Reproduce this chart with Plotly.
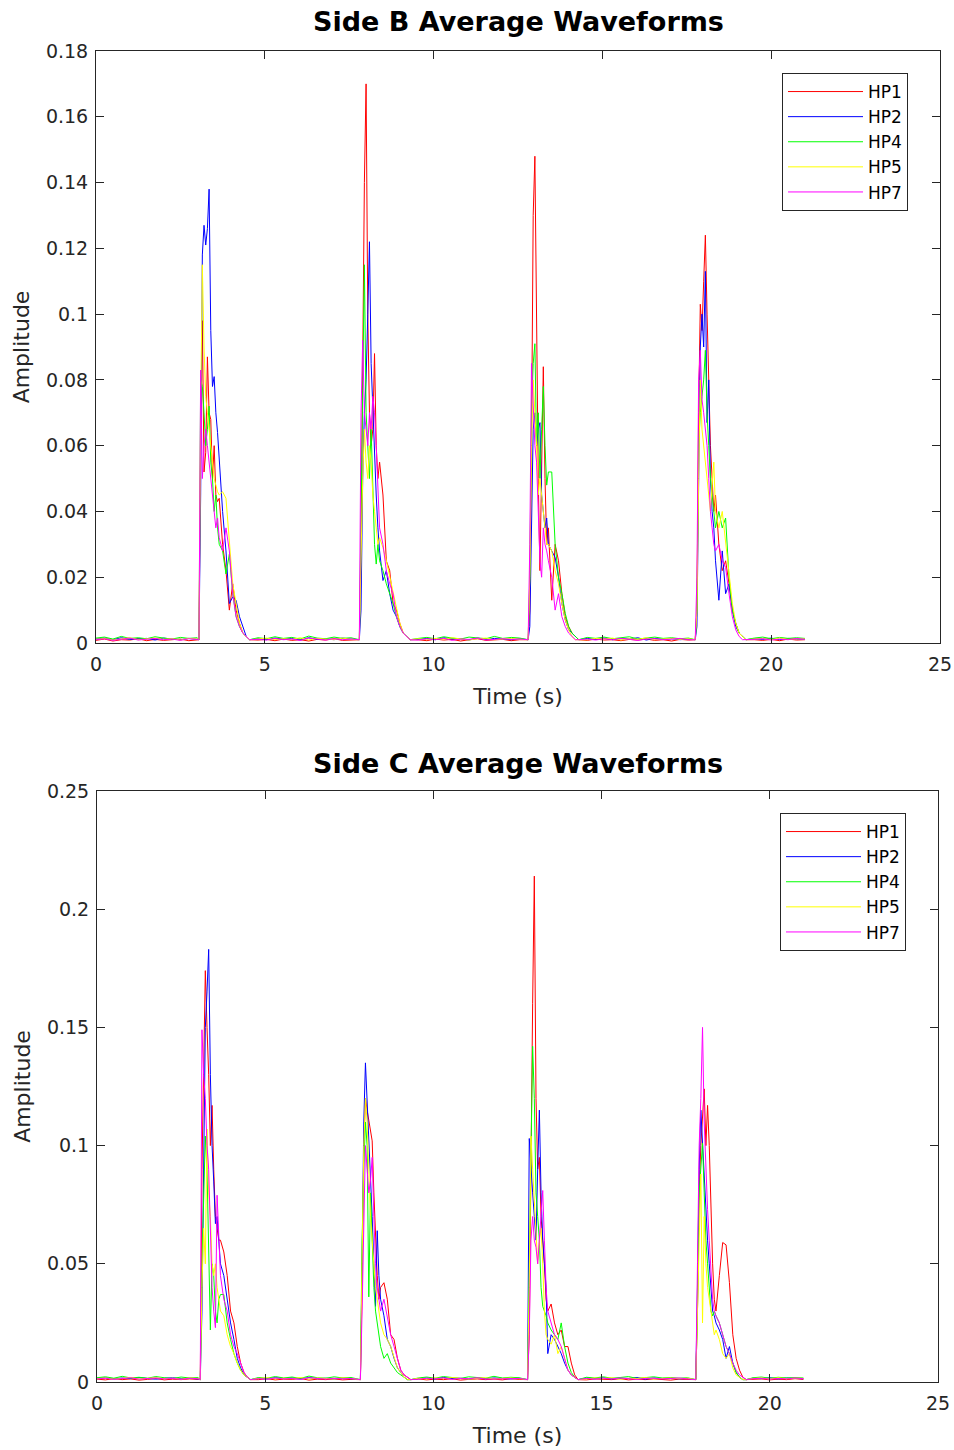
import plotly.graph_objects as go

# ---------------- data (amplitudes in milli-units) -------------
SERIES = ["HP1", "HP2", "HP4", "HP5", "HP7"]
COLORS = ["#FF0000", "#0000FF", "#00FF00", "#FFFF00", "#FF00FF"]

# baseline sample times (s), five quiet segments
BASE_T0 = [0, 0.25, 0.5, 0.75, 1.0, 1.25, 1.5, 1.75, 2.0, 2.25, 2.5, 2.75, 3.0]
BASE_T1 = [4.8, 5.05, 5.3, 5.55, 5.8, 6.05, 6.3, 6.55, 6.8, 7.05, 7.3, 7.55]
BASE_T2 = [9.55, 9.8, 10.05, 10.3, 10.55, 10.8, 11.05, 11.3, 11.55, 11.8, 12.05, 12.3, 12.55]
BASE_T3 = [14.55, 14.8, 15.05, 15.3, 15.55, 15.8, 16.05, 16.3, 16.55, 16.8, 17.05, 17.3, 17.55]
BASE_T4 = [19.5, 19.75, 20.0, 20.25, 20.5, 20.75, 21.0]
BASE_SEGS = [BASE_T0, BASE_T1, BASE_T2, BASE_T3, BASE_T4]

# burst sample offsets (s) from each burst's start time
BURST_OFFSETS = [0, 0.05, 0.1, 0.15, 0.2, 0.25, 0.3, 0.35, 0.4, 0.45, 0.5, 0.55, 0.6,
                 0.7, 0.8, 0.9, 1.0, 1.1, 1.2, 1.3, 1.4, 1.5]
BURST_START_B = [3.05, 7.8, 12.8, 17.75]
BURST_START_C = [3.07, 7.83, 12.8, 17.8]

# ---- Side B ----
B_HP1_BASE = [0.8, 1.2, 0.6, 1.0, 0.9, 1.3, 0.7, 1.1, 0.8, 1.0, 1.2, 0.7, 0.9,
              0.9, 1.1, 0.7, 1.2, 0.8, 1.0, 0.6, 1.1, 0.9, 1.3, 0.8, 1.0,
              1.0, 0.7, 1.2, 0.9, 1.1, 0.6, 1.0, 1.3, 0.8, 0.9, 1.1, 0.7, 1.0,
              0.8, 1.2, 0.9, 1.0, 0.7, 1.1, 0.9, 1.2, 0.8, 1.0, 0.6, 1.1, 0.9,
              1.0, 0.8, 1.1, 0.7, 1.2, 0.9, 1.0]
B_HP2_BASE = [1.2, 1.5, 1.0, 1.6, 1.1, 1.3, 1.4, 0.9, 1.5, 1.2, 1.0, 1.4, 1.1,
              1.3, 1.0, 1.5, 1.2, 1.4, 0.9, 1.6, 1.1, 1.3, 1.0, 1.5, 1.2,
              1.1, 1.4, 1.0, 1.6, 1.2, 1.3, 0.9, 1.5, 1.1, 1.4, 1.2, 1.0, 1.3,
              1.4, 1.1, 1.5, 1.0, 1.3, 1.2, 1.6, 0.9, 1.4, 1.1, 1.3, 1.0, 1.2,
              1.3, 1.1, 1.5, 1.0, 1.4, 1.2, 1.1]
B_HP4_BASE = [1.5, 1.8, 1.2, 2.0, 1.4, 1.6, 1.3, 1.9, 1.5, 1.2, 1.7, 1.4, 1.6,
              1.6, 1.3, 1.9, 1.4, 1.7, 1.2, 2.1, 1.5, 1.3, 1.8, 1.4, 1.6,
              1.4, 1.7, 1.3, 1.9, 1.5, 1.2, 1.8, 1.6, 1.3, 2.0, 1.4, 1.7, 1.5,
              1.7, 1.4, 1.8, 1.3, 1.6, 1.9, 1.2, 1.5, 1.8, 1.4, 1.6, 1.3, 1.5,
              1.5, 1.8, 1.3, 1.7, 1.4, 1.6, 1.4]
B_HP5_BASE = [1.1, 1.4, 0.9, 1.3, 1.6, 1.0, 1.2, 1.5, 1.1, 1.3, 0.9, 1.4, 1.2,
              1.2, 1.5, 1.0, 1.3, 1.1, 1.6, 0.9, 1.4, 1.2, 1.0, 1.5, 1.1,
              1.3, 1.0, 1.4, 1.1, 1.6, 1.2, 0.9, 1.3, 1.5, 1.0, 1.2, 1.4, 1.1,
              1.0, 1.4, 1.2, 1.5, 0.9, 1.3, 1.1, 1.6, 1.0, 1.2, 1.4, 1.1, 1.3,
              1.2, 1.4, 1.0, 1.5, 1.1, 1.3, 1.2]
B_HP7_BASE = [1.0, 1.3, 0.8, 1.2, 1.5, 0.9, 1.1, 1.4, 1.0, 1.2, 0.8, 1.3, 1.1,
              1.1, 0.9, 1.4, 1.0, 1.2, 0.8, 1.5, 1.1, 0.9, 1.3, 1.0, 1.2,
              0.9, 1.3, 1.0, 1.4, 0.8, 1.2, 1.1, 1.5, 0.9, 1.0, 1.3, 1.1, 1.2,
              1.2, 0.9, 1.3, 1.0, 1.4, 1.1, 0.8, 1.2, 1.3, 1.0, 1.1, 1.4, 1.0,
              1.1, 1.3, 0.9, 1.2, 1.0, 1.4, 1.1]

B_HP1_BURSTS = [[1, 60, 98, 52, 58, 87, 70, 68, 50, 60, 45, 43, 44, 30, 22, 10, 18, 10, 6, 3, 2, 1],
                [1, 30, 90, 140, 170, 100, 70, 60, 65, 88, 60, 50, 55, 45, 25, 22, 12, 10, 6, 3, 2, 1],
                [1, 10, 60, 130, 148, 90, 50, 22, 60, 84, 50, 30, 35, 13, 30, 25, 15, 8, 5, 3, 2, 1],
                [1, 10, 70, 103, 95, 110, 124, 100, 80, 60, 50, 40, 45, 30, 22, 25, 18, 10, 6, 3, 2, 1]]
B_HP2_BURSTS = [[1, 45, 118, 127, 121, 126, 138, 95, 78, 81, 70, 64, 55, 40, 28, 12, 14, 13, 8, 5, 2, 1],
                [1, 10, 50, 70, 80, 100, 122, 85, 70, 55, 45, 35, 28, 19, 22, 15, 10, 8, 5, 3, 2, 1],
                [1, 5, 40, 65, 70, 60, 65, 67, 45, 40, 35, 38, 30, 28, 26, 20, 12, 7, 4, 3, 2, 1],
                [1, 5, 50, 90, 100, 90, 113, 67, 80, 50, 40, 35, 25, 13, 28, 15, 18, 10, 5, 3, 2, 1]]
B_HP4_BURSTS = [[1, 80, 78, 70, 60, 65, 72, 55, 50, 40, 45, 35, 30, 28, 21, 27, 15, 8, 5, 3, 2, 1],
                [1, 40, 80, 115, 70, 60, 50, 65, 45, 30, 24, 30, 25, 22, 18, 15, 12, 8, 5, 3, 2, 1],
                [1, 20, 70, 85, 91, 60, 70, 50, 65, 78, 60, 48, 52, 52, 30, 20, 15, 9, 5, 3, 2, 1],
                [1, 10, 60, 70, 75, 80, 89, 70, 60, 50, 45, 40, 35, 40, 35, 38, 20, 10, 6, 3, 2, 1]]
B_HP5_BURSTS = [[1, 70, 115, 90, 75, 70, 65, 60, 55, 50, 48, 46, 45, 46, 44, 30, 18, 12, 6, 3, 2, 1],
                [1, 30, 50, 65, 55, 50, 60, 55, 45, 40, 35, 30, 32, 29, 25, 20, 15, 10, 6, 3, 2, 1],
                [1, 20, 60, 80, 70, 60, 45, 50, 45, 40, 35, 30, 30, 28, 22, 18, 12, 7, 4, 2, 1, 1],
                [1, 10, 50, 80, 65, 60, 55, 50, 45, 40, 48, 55, 40, 35, 40, 30, 20, 12, 6, 3, 2, 1]]
B_HP7_BURSTS = [[1, 83, 50, 60, 65, 60, 55, 50, 45, 40, 35, 38, 32, 28, 35, 28, 15, 8, 5, 3, 2, 1],
                [1, 70, 92, 70, 65, 60, 70, 65, 75, 70, 60, 45, 35, 30, 22, 18, 15, 8, 5, 3, 2, 1],
                [1, 30, 85, 70, 60, 55, 40, 25, 20, 35, 30, 28, 25, 20, 10, 15, 8, 5, 3, 2, 1, 1],
                [1, 20, 80, 89, 74, 70, 65, 60, 50, 40, 35, 30, 28, 30, 25, 23, 15, 8, 4, 2, 1, 1]]

# ---- Side C ----
C_HP1_BASE = [1.2, 0.9, 1.4, 1.0, 1.3, 0.8, 1.1, 1.5, 0.9, 1.2, 1.0, 1.3, 1.1,
              1.0, 1.4, 0.9, 1.2, 1.1, 1.5, 0.8, 1.2, 1.0, 1.3, 0.9, 1.1,
              1.3, 0.9, 1.2, 1.0, 1.4, 0.8, 1.1, 1.3, 1.0, 1.2, 0.9, 1.4, 1.1,
              0.9, 1.3, 1.1, 1.0, 1.4, 0.9, 1.2, 1.0, 1.3, 1.1, 0.8, 1.2, 1.0,
              1.1, 1.3, 0.9, 1.2, 1.0, 1.4, 1.1]
C_HP2_BASE = [1.5, 1.8, 1.3, 1.7, 1.4, 1.9, 1.5, 1.2, 1.6, 1.8, 1.4, 1.6, 1.3,
              1.6, 1.3, 1.8, 1.5, 1.7, 1.2, 1.9, 1.4, 1.6, 1.3, 1.7, 1.5,
              1.4, 1.7, 1.3, 1.9, 1.5, 1.6, 1.2, 1.8, 1.4, 1.7, 1.5, 1.3, 1.6,
              1.7, 1.4, 1.8, 1.3, 1.6, 1.5, 1.9, 1.2, 1.7, 1.4, 1.6, 1.3, 1.5,
              1.6, 1.4, 1.8, 1.3, 1.7, 1.5, 1.4]
C_HP4_BASE = [1.8, 2.2, 1.6, 2.4, 1.7, 2.0, 1.6, 2.3, 1.8, 1.5, 2.1, 1.7, 1.9,
              1.9, 1.6, 2.3, 1.7, 2.1, 1.5, 2.5, 1.8, 1.6, 2.2, 1.7, 1.9,
              1.7, 2.1, 1.6, 2.3, 1.8, 1.5, 2.2, 1.9, 1.6, 2.4, 1.7, 2.0, 1.8,
              2.0, 1.7, 2.2, 1.6, 1.9, 2.3, 1.5, 1.8, 2.2, 1.7, 1.9, 1.6, 1.8,
              1.8, 2.1, 1.6, 2.0, 1.7, 1.9, 1.7]
C_HP5_BASE = [1.4, 1.7, 1.2, 1.6, 1.9, 1.3, 1.5, 1.8, 1.4, 1.6, 1.2, 1.7, 1.5,
              1.5, 1.8, 1.3, 1.6, 1.4, 1.9, 1.2, 1.7, 1.5, 1.3, 1.8, 1.4,
              1.6, 1.3, 1.7, 1.4, 1.9, 1.5, 1.2, 1.6, 1.8, 1.3, 1.5, 1.7, 1.4,
              1.3, 1.7, 1.5, 1.8, 1.2, 1.6, 1.4, 1.9, 1.3, 1.5, 1.7, 1.4, 1.6,
              1.5, 1.7, 1.3, 1.8, 1.4, 1.6, 1.5]
C_HP7_BASE = [1.3, 1.6, 1.1, 1.5, 1.8, 1.2, 1.4, 1.7, 1.3, 1.5, 1.1, 1.6, 1.4,
              1.4, 1.2, 1.7, 1.3, 1.5, 1.1, 1.8, 1.4, 1.2, 1.6, 1.3, 1.5,
              1.2, 1.6, 1.3, 1.7, 1.1, 1.5, 1.4, 1.8, 1.2, 1.3, 1.6, 1.4, 1.5,
              1.5, 1.2, 1.6, 1.3, 1.7, 1.4, 1.1, 1.5, 1.6, 1.3, 1.4, 1.7, 1.3,
              1.4, 1.6, 1.2, 1.5, 1.3, 1.7, 1.4]

C_HP1_BURSTS = [[1, 90, 140, 174, 150, 130, 100, 117, 90, 70, 65, 60, 60, 55, 45, 30, 25, 15, 8, 4, 2, 1],
                [1, 40, 100, 120, 115, 110, 105, 102, 80, 60, 45, 35, 40, 42, 35, 20, 18, 10, 5, 3, 2, 1],
                [1, 20, 100, 160, 214, 120, 90, 95, 70, 60, 50, 35, 30, 33, 25, 20, 22, 15, 15, 8, 3, 1],
                [1, 30, 80, 100, 110, 124, 100, 117, 100, 70, 50, 35, 30, 45, 59, 58, 42, 20, 10, 5, 2, 1]]
C_HP2_BURSTS = [[1, 30, 100, 150, 165, 183, 130, 100, 85, 67, 70, 60, 50, 45, 35, 25, 18, 10, 6, 3, 2, 1],
                [1, 50, 110, 135, 120, 100, 90, 70, 50, 32, 64, 45, 35, 28, 18, 15, 10, 6, 4, 2, 1, 1],
                [1, 103, 90, 80, 70, 60, 90, 115, 80, 60, 50, 40, 12, 20, 18, 15, 12, 8, 5, 3, 2, 1],
                [1, 40, 90, 115, 100, 90, 70, 60, 50, 40, 30, 28, 25, 22, 18, 10, 15, 8, 4, 2, 1, 1]]
C_HP4_BURSTS = [[1, 50, 80, 104, 90, 60, 22, 50, 45, 30, 25, 35, 37, 37, 25, 18, 12, 8, 5, 3, 2, 1],
                [1, 60, 90, 110, 100, 36, 80, 60, 40, 30, 25, 20, 15, 10, 12, 8, 6, 4, 3, 2, 1, 1],
                [1, 50, 100, 142, 120, 80, 70, 60, 40, 32, 30, 28, 25, 22, 20, 18, 25, 15, 8, 4, 2, 1],
                [1, 30, 80, 90, 101, 80, 60, 50, 40, 30, 28, 30, 28, 25, 20, 15, 12, 8, 4, 2, 1, 1]]
C_HP5_BURSTS = [[1, 40, 65, 50, 107, 80, 70, 50, 45, 50, 40, 35, 30, 28, 20, 15, 12, 8, 5, 3, 2, 1],
                [1, 50, 100, 120, 110, 90, 70, 60, 50, 40, 35, 30, 25, 20, 18, 15, 10, 6, 4, 2, 1, 1],
                [1, 40, 104, 90, 75, 60, 50, 60, 65, 50, 30, 20, 18, 16, 20, 12, 15, 10, 5, 3, 2, 1],
                [1, 30, 70, 88, 25, 70, 50, 40, 35, 30, 25, 20, 22, 18, 12, 10, 12, 6, 3, 2, 1, 1]]
C_HP7_BURSTS = [[1, 149, 130, 120, 100, 90, 60, 40, 30, 23, 79, 60, 45, 35, 30, 20, 15, 12, 8, 4, 2, 1],
                [1, 30, 70, 100, 90, 80, 85, 95, 70, 50, 40, 35, 30, 35, 27, 20, 15, 10, 5, 3, 2, 1],
                [1, 20, 60, 70, 60, 57, 50, 60, 70, 81, 60, 40, 30, 25, 20, 18, 15, 10, 5, 3, 2, 1],
                [1, 50, 100, 120, 150, 110, 90, 73, 60, 45, 35, 30, 28, 25, 20, 15, 12, 8, 5, 3, 2, 1]]

B_DATA = [(B_HP1_BASE, B_HP1_BURSTS), (B_HP2_BASE, B_HP2_BURSTS), (B_HP4_BASE, B_HP4_BURSTS),
          (B_HP5_BASE, B_HP5_BURSTS), (B_HP7_BASE, B_HP7_BURSTS)]
C_DATA = [(C_HP1_BASE, C_HP1_BURSTS), (C_HP2_BASE, C_HP2_BURSTS), (C_HP4_BASE, C_HP4_BURSTS),
          (C_HP5_BASE, C_HP5_BURSTS), (C_HP7_BASE, C_HP7_BURSTS)]

X_TICKS = [0, 5, 10, 15, 20, 25]
X_TICK_TEXT = ["0", "5", "10", "15", "20", "25"]
B_Y_TICKS = [0, 0.02, 0.04, 0.06, 0.08, 0.1, 0.12, 0.14, 0.16, 0.18]
B_Y_TICK_TEXT = ["0", "0.02", "0.04", "0.06", "0.08", "0.1", "0.12", "0.14", "0.16", "0.18"]
C_Y_TICKS = [0, 0.05, 0.1, 0.15, 0.2, 0.25]
C_Y_TICK_TEXT = ["0", "0.05", "0.1", "0.15", "0.2", "0.25"]


def assemble(base, bursts, starts):
    t, v = [], []
    pos = 0
    for k, seg in enumerate(BASE_SEGS):
        n = len(seg)
        t += seg
        v += base[pos:pos + n]
        pos += n
        if k < 4:
            t += [starts[k] + o for o in BURST_OFFSETS]
            v += bursts[k]
    return t, [x / 1000.0 for x in v]


fig = go.Figure()
for i, name in enumerate(SERIES):
    t, v = assemble(*B_DATA[i], BURST_START_B)
    fig.add_trace(go.Scatter(x=t, y=v, mode="lines", name=name,
                             line=dict(color=COLORS[i], width=1),
                             xaxis="x", yaxis="y", legend="legend"))
for i, name in enumerate(SERIES):
    t, v = assemble(*C_DATA[i], BURST_START_C)
    fig.add_trace(go.Scatter(x=t, y=v, mode="lines", name=name,
                             line=dict(color=COLORS[i], width=1),
                             xaxis="x2", yaxis="y2", legend="legend2"))

W, H = 954, 1450
FONT = "DejaVu Sans"
AX = "#262626"

def xax(dom, anchor):
    return dict(domain=dom, anchor=anchor, range=[0, 25], tickvals=X_TICKS, ticktext=X_TICK_TEXT,
                ticks="inside", ticklen=8, tickcolor=AX, showline=True, linecolor=AX, linewidth=1,
                mirror="ticks", showgrid=False, zeroline=False, automargin=False,
                ticklabelstandoff=4,
                tickfont=dict(family=FONT, size=19, color="#262626"),
                title=dict(text="Time (s)", font=dict(family=FONT, size=22, color="#262626"), standoff=14))

def yax(dom, anchor, rng, tv, tt):
    return dict(domain=dom, anchor=anchor, range=rng, tickvals=tv, ticktext=tt,
                ticks="inside", ticklen=8, tickcolor=AX, showline=True, linecolor=AX, linewidth=1,
                mirror="ticks", showgrid=False, zeroline=False, automargin=False,
                ticklabelstandoff=3,
                tickfont=dict(family=FONT, size=19, color="#262626"),
                title=dict(text="Amplitude", font=dict(family=FONT, size=22, color="#262626"), standoff=10))

LEG = dict(xanchor="left", yanchor="top", bordercolor=AX, borderwidth=1, bgcolor="white",
           font=dict(family=FONT, size=17, color="black"), itemwidth=75, tracegroupgap=0)

fig.update_layout(
    width=W, height=H, autosize=False,
    margin=dict(l=0, r=0, t=0, b=0, autoexpand=False),
    paper_bgcolor="white", plot_bgcolor="white",
    xaxis=xax([96 / W, 940 / W], "y"),
    yaxis=yax([1 - 643 / H, 1 - 51 / H], "x", [0, 0.18], B_Y_TICKS, B_Y_TICK_TEXT),
    xaxis2=xax([97 / W, 938 / W], "y2"),
    yaxis2=yax([1 - 1382 / H, 1 - 791 / H], "x2", [0, 0.25], C_Y_TICKS, C_Y_TICK_TEXT),
    legend=dict(x=782 / W, y=1 - 73 / H, **LEG),
    legend2=dict(x=780 / W, y=1 - 813 / H, **LEG),
    annotations=[
        dict(text="<b>Side B Average Waveforms</b>", x=518 / W, y=1 - 22 / H, xref="paper", yref="paper",
             showarrow=False, xanchor="center", yanchor="middle",
             font=dict(family=FONT, size=27, color="black")),
        dict(text="<b>Side C Average Waveforms</b>", x=518 / W, y=1 - 763 / H, xref="paper", yref="paper",
             showarrow=False, xanchor="center", yanchor="middle",
             font=dict(family=FONT, size=27, color="black")),
    ],
)

fig.write_html("out.html", config={"displayModeBar": False},
               post_script="document.body.style.margin='0';document.documentElement.style.overflow='hidden';")
